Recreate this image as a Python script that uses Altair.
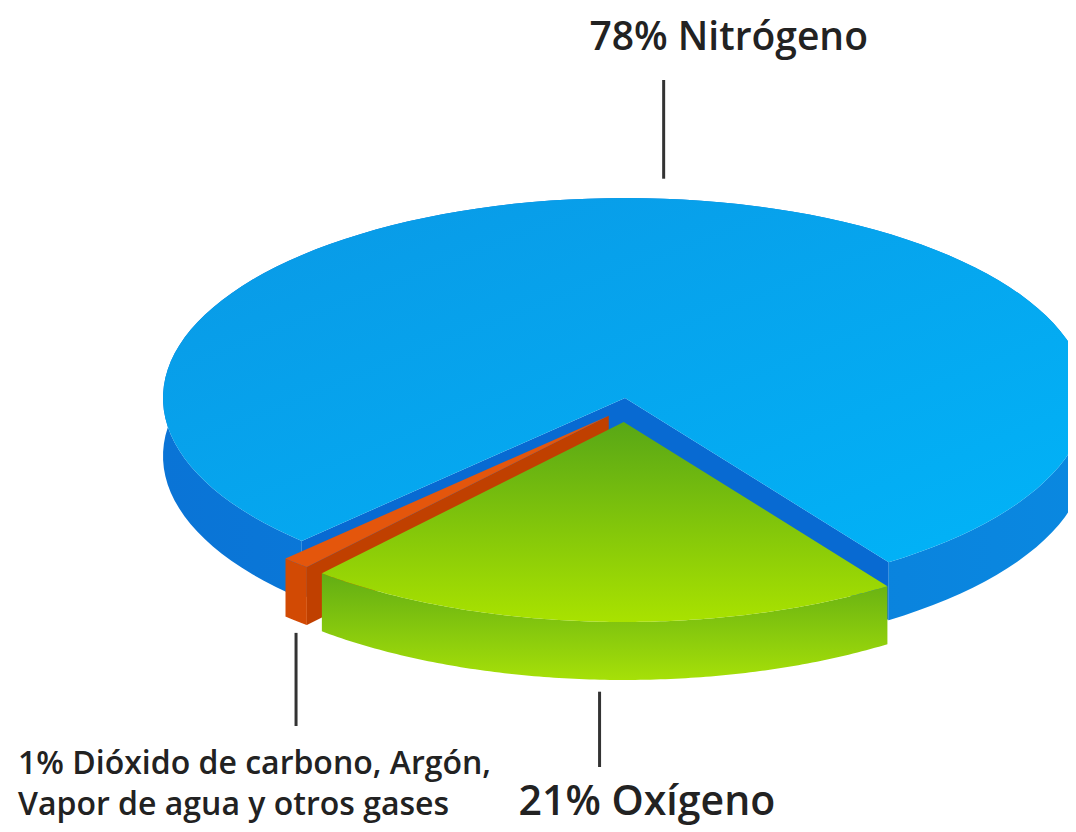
import altair as alt
import pandas as pd

# ---- data ----
gases = ["Oxígeno", "Nitrógeno", "Otros"]
percents = [21, 78, 1]
labels = ["21% Oxígeno", "78% Nitrógeno",
          "1% Dióxido de carbono, Argón,\nVapor de agua y otros gases"]

df = pd.DataFrame({"gas": gases, "pct": percents, "label": labels})

# ---- geometry / style constants (chart pixel units) ----
W, H = 1060, 820
CX, CY, RX, RY, TH = 617, 390, 462, 200, 58
START = "(-40.8*PI/180)"
EXPLODE = 24
N = 120
TOP_BASE, BOTTOM_BASE, LINE_H = 42, 807, 41

XS = alt.Scale(domain=[0, W], nice=False, zero=False)
YS = alt.Scale(domain=[0, H], nice=False, zero=False, reverse=True)


def X(f):
    return alt.X(f"{f}:Q", scale=XS, axis=None)


def Y(f):
    return alt.Y(f"{f}:Q", scale=YS, axis=None)


def base():
    return (
        alt.Chart(df)
        .transform_joinaggregate(total="sum(pct)")
        .transform_window(cum="sum(pct)", frame=[None, 0])
        .transform_calculate(a0=f"{START} + 2*PI*(datum.cum - datum.pct)/datum.total")
        .transform_calculate(a1=f"{START} + 2*PI*datum.cum/datum.total")
        .transform_calculate(mid="(datum.a0 + datum.a1)/2")
        .transform_calculate(ex=f"datum.pct/datum.total < 0.5 ? {EXPLODE} : 0")
        .transform_calculate(ox="datum.ex*sin(datum.mid)")
        .transform_calculate(oy="datum.ex*cos(datum.mid)")
    )


def poly(chart, fill, detail="gas:N"):
    return chart.mark_line(fill=fill, strokeWidth=0, clip=True).encode(
        x=X("px"), y=Y("py"), order="s:Q", detail=detail
    )


def top_face(gas, fill):
    c = (
        base()
        .transform_filter(alt.datum.gas == gas)
        .transform_calculate(s=f"sequence(0, {N + 2})")
        .transform_flatten(["s"])
        .transform_calculate(t=f"datum.a0 + (datum.a1 - datum.a0)*(datum.s - 1)/{N}")
        .transform_calculate(px=f"{CX} + datum.ox + (datum.s == 0 ? 0 : {RX}*sin(datum.t))")
        .transform_calculate(py=f"{CY} + datum.oy + (datum.s == 0 ? 0 : {RY}*cos(datum.t))")
    )
    return poly(c, fill)


def rim_wall(gas, fill):
    c = (
        base()
        .transform_filter(alt.datum.gas == gas)
        .transform_calculate(s=f"sequence(0, {2 * N + 2})")
        .transform_flatten(["s"])
        .transform_calculate(k=f"datum.s <= {N} ? datum.s : {2 * N + 1} - datum.s")
        .transform_calculate(t=f"datum.a0 + (datum.a1 - datum.a0)*datum.k/{N}")
        .transform_calculate(px=f"{CX} + datum.ox + {RX}*sin(datum.t)")
        .transform_calculate(py=f"{CY} + datum.oy + {RY}*cos(datum.t) + (datum.s > {N} ? {TH} : 0)")
    )
    return poly(c, fill)


def cut_walls(gas, fill):
    c = (
        base()
        .transform_filter(alt.datum.gas == gas)
        .transform_calculate(e="[0, 1]")
        .transform_flatten(["e"])
        .transform_filter("(datum.e == 0 && sin(datum.a0) > 0) || (datum.e == 1 && sin(datum.a1) < 0)")
        .transform_calculate(ea="datum.e == 0 ? datum.a0 : datum.a1")
        .transform_calculate(s="sequence(0, 4)")
        .transform_flatten(["s"])
        .transform_calculate(r="(datum.s == 1 || datum.s == 2) ? 1 : 0")
        .transform_calculate(px=f"{CX} + datum.ox + datum.r*{RX}*sin(datum.ea)")
        .transform_calculate(py=f"{CY} + datum.oy + datum.r*{RY}*cos(datum.ea) + (datum.s >= 2 ? {TH} : 0)")
    )
    return poly(c, fill, detail="e:N")


def grad(c1, c2, x1=0, y1=0, x2=0, y2=1):
    return alt.LinearGradient(
        gradient="linear",
        stops=[alt.GradientStop(color=c1, offset=0), alt.GradientStop(color=c2, offset=1)],
        x1=x1, y1=y1, x2=x2, y2=y2,
    )


STYLE = {
    "Nitrógeno": dict(top=grad("#0a98e5", "#01b4f8", 0, 0, 1, 1),
                      side=grad("#0a74d6", "#0a88e0", 0, 0, 1, 0),
                      cut="#086ad2"),
    "Otros": dict(top="#e4560c", side="#d24a04", cut="#c04000"),
    "Oxígeno": dict(top=grad("#58a716", "#a9e200"),
                    side=grad("#62ad14", "#a6e008"),
                    cut="#5a9e12"),
}

layers = []
for g in ["Nitrógeno", "Otros", "Oxígeno"]:
    st = STYLE[g]
    layers.append(cut_walls(g, st["cut"]))
    layers.append(rim_wall(g, st["side"]))
    layers.append(top_face(g, st["top"]))

# ---- leaders and labels, anchored on each slice ----
ann = (
    base()
    .transform_calculate(front="cos(datum.mid) > 0")
    .transform_calculate(lx=f"{CX} + datum.ox + {RX}*sin(datum.mid)")
    .transform_calculate(nl="split(datum.label, '\\n').length")
    .transform_calculate(ty=f"datum.front ? {BOTTOM_BASE} - {LINE_H}*(datum.nl - 1) : {TOP_BASE}")
    .transform_calculate(
        ly1=f"datum.front ? {CY} + datum.oy + {RY}*cos(datum.mid) + {TH} + 12 : {CY} + datum.oy + {RY}*cos(datum.mid) - 20"
    )
    .transform_calculate(ly2="datum.front ? datum.ty - 48 : datum.ty + 30")
)

layers.append(
    ann.mark_rule(color="#333333", strokeWidth=3).encode(x=X("lx"), y=Y("ly1"), y2="ly2:Q")
)

TEXT_STYLE = {
    "Nitrógeno": dict(align="center", dx=65, fontSize=39),
    "Oxígeno": dict(align="left", dx=-81, fontSize=41),
    "Otros": dict(align="left", dx=-278, fontSize=32),
}
for g, ts in TEXT_STYLE.items():
    layers.append(
        ann.transform_filter(alt.datum.gas == g)
        .mark_text(font="Open Sans", fontWeight=600, color="#222222", baseline="alphabetic",
                   lineBreak="\n", lineHeight=LINE_H, **ts)
        .encode(x=X("lx"), y=Y("ty"), text="label:N")
    )

chart = (
    alt.layer(*layers)
    .properties(width=W, height=H, padding=0, autosize=alt.AutoSizeParams(type="none"))
    .configure_view(stroke=None)
)

chart.save("out.html", embed_options={"renderer": "svg", "actions": False})
